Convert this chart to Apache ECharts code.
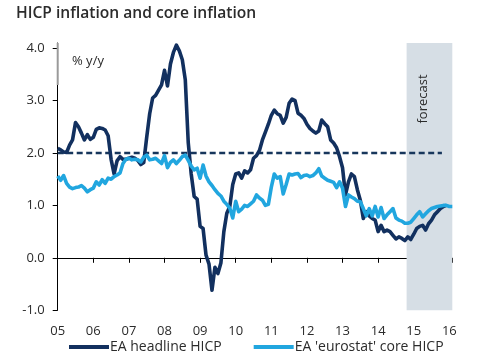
<!DOCTYPE html>
<html>
<head>
<meta charset="utf-8">
<script src="https://cdn.jsdelivr.net/npm/echarts@6/dist/echarts.min.js"></script>
<style>
html,body{margin:0;padding:0;background:#fff;}
#chart{width:497px;height:360px;}
</style>
</head>
<body>
<div id="chart"></div>
<script>
// Months since Jan 2005 (index = month)
const xLabels = ['05','06','07','08','09','10','11','12','13','14','15','16'];
const yTicks = [-1, 0, 1, 2, 3, 4];
const headline = [
  2.09,2.06,2.02,2.01,2.15,2.25,2.58,2.5,2.38,2.25,2.35,2.26,
  2.3,2.45,2.48,2.47,2.44,2.33,1.88,1.6,1.85,1.93,1.88,1.88,
  1.9,1.92,1.9,1.86,1.78,1.82,2.3,2.75,3.05,3.1,3.2,3.3,
  3.58,3.28,3.7,3.92,4.06,3.95,3.78,3.4,2.2,1.6,1.17,1.12,
  0.6,0.56,0.05,-0.12,-0.62,-0.18,-0.3,-0.1,0.5,0.85,0.98,1.4,
  1.6,1.62,1.52,1.66,1.62,1.68,1.9,1.95,2.05,2.25,2.4,2.55,
  2.72,2.82,2.75,2.72,2.57,2.68,2.95,3.03,3.0,2.76,2.72,2.66,
  2.55,2.47,2.42,2.38,2.42,2.63,2.56,2.5,2.25,2.19,2.1,1.93,
  1.72,1.2,1.45,1.6,1.55,1.3,1.1,0.75,0.88,0.8,0.75,0.72,
  0.5,0.62,0.5,0.53,0.5,0.43,0.36,0.4,0.37,0.33,0.4,0.35,
  0.45,0.56,0.6,0.62,0.53,0.65,0.72,0.82,0.88,0.94,0.98,1.0
];
const core = [
  1.56,1.48,1.57,1.42,1.35,1.32,1.34,1.35,1.38,1.33,1.26,1.3,
  1.33,1.45,1.39,1.49,1.42,1.52,1.5,1.55,1.58,1.62,1.8,1.88,
  1.9,1.87,1.88,1.87,1.83,1.92,1.96,1.87,1.88,1.9,1.85,1.8,
  1.95,1.72,1.82,1.87,1.8,1.86,1.93,1.96,1.86,1.75,1.68,1.71,
  1.52,1.77,1.56,1.45,1.38,1.3,1.23,1.18,1.08,1.02,0.95,0.76,
  1.08,0.88,0.93,1.0,0.98,1.03,1.08,1.2,1.14,1.1,1.0,1.02,
  1.35,1.6,1.52,1.55,1.22,1.4,1.6,1.58,1.6,1.61,1.53,1.57,
  1.58,1.55,1.57,1.62,1.7,1.56,1.52,1.48,1.46,1.44,1.34,1.45,
  1.33,0.98,1.2,1.16,1.13,1.08,1.07,0.94,0.8,0.94,0.8,0.98,
  0.78,0.96,0.75,0.82,0.88,0.94,0.76,0.72,0.7,0.66,0.66,0.68,
  0.75,0.82,0.88,0.78,0.84,0.9,0.94,0.96,0.98,0.99,1.0,1.0,
  0.98,0.98
];
const targetLevel = 2.0;
const targetEnd = 129.5;
const forecastStart = 117.6;
const xMax = 133;
const yMin = -1, yMax = 4.1;

const NAVY = '#12305f';
const CYAN = '#21a6df';
const FONT = 'Open Sans';

const chart = echarts.init(document.getElementById('chart'), null, {renderer: 'canvas'});
const isTick = v => yTicks.some(t => Math.abs(t - v) < 1e-6);

chart.setOption({
  animation: false,
  textStyle: {fontFamily: FONT},
  title: {
    text: 'HICP inflation and core inflation',
    left: 11, top: 1,
    textStyle: {fontFamily: FONT, fontSize: 15.6, fontWeight: 600, color: '#2b2b2b'}
  },
  grid: {left: 57.7, right: 44.7, top: 43, bottom: 49.8},
  legend: {
    left: 64, bottom: 1,
    itemWidth: 40, itemHeight: 4, itemGap: 32,
    icon: 'rect',
    data: ['EA headline HICP', "EA 'eurostat' core HICP"],
    textStyle: {fontFamily: FONT, fontSize: 14, color: '#2b2b2b', padding: [0, 0, 0, -4]}
  },
  xAxis: [
    {
      type: 'value', min: 0, max: xMax, interval: 12,
      axisLine: {onZero: true, lineStyle: {color: '#000', width: 1}},
      axisTick: {show: true, length: 5, lineStyle: {color: '#000'}},
      axisLabel: {show: false},
      splitLine: {show: false}
    },
    {
      type: 'value', min: 0, max: xMax, interval: 12, position: 'bottom',
      axisLine: {show: false, onZero: false},
      axisTick: {show: false},
      axisLabel: {
        margin: 15, fontSize: 13, color: '#2b2b2b', fontFamily: FONT,
        formatter: v => (v % 12 === 0 ? xLabels[v / 12] : '')
      },
      splitLine: {show: false}
    }
  ],
  yAxis: {
    type: 'value', min: yMin, max: yMax, interval: 1,
    axisLine: {show: true, lineStyle: {color: '#000', width: 1}},
    axisTick: {show: true, length: 5, lineStyle: {color: '#000'}, customValues: yTicks},
    axisLabel: {
      margin: 13, fontSize: 13, color: '#2b2b2b', fontFamily: FONT,
      customValues: yTicks,
      formatter: v => (isTick(v) ? v.toFixed(1) : '')
    },
    splitLine: {show: false}
  },
  graphic: [
    {type: 'rect', z: 100, shape: {x: 56.7, y: 43, width: 2, height: 42}, style: {fill: '#9a9a9a'}},
    {type: 'text', z: 100, left: 72, top: 55, style: {text: '% y/y', font: '13px "Open Sans"', fill: '#2b2b2b'}},
    {type: 'text', z: 100, x: 423, y: 99, rotation: Math.PI / 2,
     style: {text: 'forecast', font: '13px "Open Sans"', fill: '#2b2b2b', align: 'center', verticalAlign: 'middle'}}
  ],
  series: [
    {
      name: 'forecast', type: 'line', data: [], silent: true,
      markArea: {
        silent: true,
        itemStyle: {color: '#d6dee5'},
        data: [[{xAxis: forecastStart, yAxis: yMin}, {xAxis: xMax, yAxis: yMax}]]
      }
    },
    {
      name: 'target', type: 'line', symbol: 'none', z: 3,
      data: [[0, targetLevel], [targetEnd, targetLevel]],
      lineStyle: {color: '#17365c', width: 2.5, type: [6, 3.5]}
    },
    {
      name: 'EA headline HICP', type: 'line', symbol: 'none', z: 4,
      data: headline.map((v, i) => [i, v]),
      color: NAVY,
      lineStyle: {color: NAVY, width: 3.6, join: 'round'}
    },
    {
      name: "EA 'eurostat' core HICP", type: 'line', symbol: 'none', z: 5,
      data: core.map((v, i) => [i, v]),
      color: CYAN,
      lineStyle: {color: CYAN, width: 3.6, join: 'round'}
    }
  ]
});
</script>
</body>
</html>
